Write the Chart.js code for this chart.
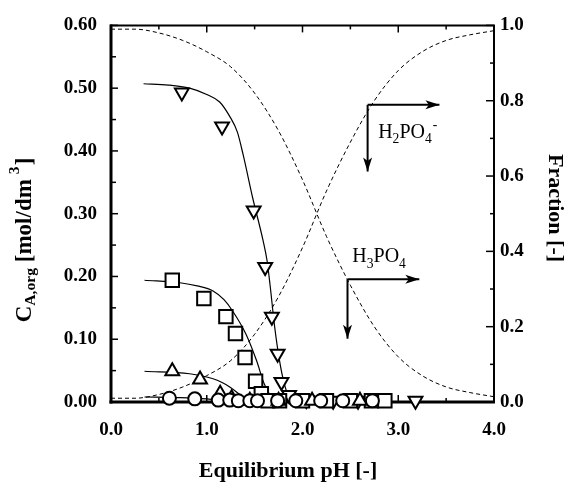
<!DOCTYPE html>
<html><head><meta charset="utf-8">
<script src="https://cdn.jsdelivr.net/npm/chart.js@4.4.1/dist/chart.umd.min.js"></script>
<style>html,body{margin:0;padding:0;background:#fff;}canvas{display:block;}</style>
</head><body>
<canvas id="c" width="568" height="485" style="width:568px;height:485px"></canvas>
<script>
const SERIF = '"Liberation Serif", "Times New Roman", serif';

// ---- tick labels ----
const xTicks = [0, 1, 2, 3, 4];
const xMinor = [0.5, 1.5, 2.5, 3.5];
const yTicks = [0, 0.1, 0.2, 0.3, 0.4, 0.5, 0.6];
const yMinor = [0.05, 0.15, 0.25, 0.35, 0.45, 0.55];
const y2Ticks = [0, 0.2, 0.4, 0.6, 0.8, 1.0];
const y2Minor = [0.1, 0.3, 0.5, 0.7, 0.9];

// ---- measured points: C_A,org vs equilibrium pH ----
const triDownPH = [0.74, 1.16, 1.49, 1.61, 1.68, 1.74, 1.78, 1.86, 2.04, 2.32, 2.58, 3.18];
const triDownC  = [0.493, 0.439, 0.305, 0.215, 0.136, 0.077, 0.032, 0.011, 0.003, 0.002, 0.002, 0.002];
const squarePH  = [0.64, 0.97, 1.20, 1.30, 1.40, 1.51, 1.57, 1.64, 1.76, 2.00, 2.25, 2.50, 2.72, 2.86];
const squareC   = [0.194, 0.165, 0.136, 0.109, 0.071, 0.033, 0.013, 0.002, 0.002, 0.002, 0.002, 0.002, 0.002, 0.002];
const triUpPH   = [0.64, 0.93, 1.14, 1.26, 1.45, 1.75, 2.10, 2.60];
const triUpC    = [0.049, 0.036, 0.013, 0.006, 0.002, 0.002, 0.002, 0.002];
const circlePH  = [0.61, 0.875, 1.12, 1.24, 1.33, 1.45, 1.53, 1.74, 1.93, 2.19, 2.42, 2.73];
const circleC   = [0.006, 0.005, 0.003, 0.003, 0.002, 0.002, 0.002, 0.002, 0.002, 0.002, 0.002, 0.002];

// ---- fitted curves (solid) ----
const fitDownPH = [0.34, 0.60, 0.82, 1.00, 1.135, 1.24, 1.32, 1.38, 1.48, 1.59, 1.63, 1.66, 1.71, 1.76, 1.81, 1.86, 1.92];
const fitDownC  = [0.507, 0.505, 0.500, 0.490, 0.478, 0.455, 0.430, 0.394, 0.325, 0.256, 0.225, 0.188, 0.119, 0.066, 0.029, 0.008, 0.000];
const fitSqPH   = [0.35, 0.72, 0.90, 1.066, 1.18, 1.27, 1.41, 1.52, 1.60, 1.69, 1.74];
const fitSqC    = [0.194, 0.190, 0.185, 0.177, 0.163, 0.145, 0.108, 0.066, 0.029, 0.005, 0.000];
const fitUpPH   = [0.35, 0.82, 1.066, 1.16, 1.24, 1.38, 1.45];
const fitUpC    = [0.049, 0.045, 0.037, 0.031, 0.024, 0.008, 0.001];
const fitCirPH  = [0.35, 0.70, 1.00, 1.20, 1.35];
const fitCirC   = [0.008, 0.007, 0.005, 0.002, 0.000];

// ---- species fractions (dashed, right axis) ----
const fracPH    = [0, 0.25, 0.5, 0.75, 1.0, 1.25, 1.5, 1.75, 2.0, 2.25, 2.5, 2.75, 3.0, 3.25, 3.5, 3.75, 4.0];
const fracH3PO4 = [0.99, 0.99, 0.98, 0.96, 0.93, 0.89, 0.82, 0.72, 0.59, 0.44, 0.31, 0.20, 0.12, 0.07, 0.04, 0.025, 0.014];
const fracH2PO4 = [0.01, 0.01, 0.02, 0.04, 0.07, 0.11, 0.18, 0.28, 0.41, 0.56, 0.69, 0.80, 0.88, 0.93, 0.96, 0.975, 0.986];

// ---- annotation arrows [cornerPH, cornerFrac, endPH, endFrac] ----
const arrowH2PO4 = [2.68, 0.789, 3.43, 0.612];
const arrowH3PO4 = [2.47, 0.326, 3.22, 0.168];
const labelH2PO4 = [2.79, 0.702];
const labelH3PO4 = [2.52, 0.372];

const zip = (xs, ys) => xs.map((x, i) => ({x, y: ys[i]}));

function markerSet(label, xs, ys, style, radius, rotation) {
  return {label, data: zip(xs, ys), showLine: false, yAxisID: 'y', clip: false,
    pointStyle: style, pointRotation: rotation || 0, pointRadius: radius,
    pointBorderWidth: 2, pointBorderColor: '#000', pointBackgroundColor: '#fff',
    borderColor: '#000', backgroundColor: '#fff'};
}
function curveSet(label, xs, ys, axis, dashed) {
  return {label, data: zip(xs, ys), showLine: true, yAxisID: axis, pointRadius: 0,
    borderColor: '#000', borderWidth: dashed ? 1 : 1.2, borderDash: dashed ? [4, 3] : [],
    cubicInterpolationMode: 'monotone', fill: false};
}

const datasets = [
  markerSet('circles', circlePH, circleC, 'circle', 6.5),
  markerSet('triangles up', triUpPH, triUpC, 'triangle', 8, 0),
  markerSet('squares', squarePH, squareC, 'rect', 9.5),
  markerSet('triangles down', triDownPH, triDownC, 'triangle', 8, 180),
  curveSet('fit down', fitDownPH, fitDownC, 'y', false),
  curveSet('fit squares', fitSqPH, fitSqC, 'y', false),
  curveSet('fit up', fitUpPH, fitUpC, 'y', false),
  curveSet('fit circles', fitCirPH, fitCirC, 'y', false),
  curveSet('H3PO4', fracPH, fracH3PO4, 'y2', true),
  curveSet('H2PO4-', fracPH, fracH2PO4, 'y2', true)
];

function richText(ctx, x, y, parts, size, weight, align) {
  const measure = p => {
    ctx.font = `${weight} ${p.s ? size * 0.68 : size}px ${SERIF}`;
    return ctx.measureText(p.t).width;
  };
  const total = parts.reduce((a, p) => a + measure(p) + (p.gap || 0), 0);
  let cx = align === 'center' ? x - total / 2 : x;
  parts.forEach(p => {
    ctx.font = `${weight} ${p.s ? size * 0.68 : size}px ${SERIF}`;
    cx += (p.gap || 0);
    const dy = p.s === 'sub' ? size * 0.28 : p.s === 'sup' ? -size * 0.42 : 0;
    ctx.fillText(p.t, cx, y + dy);
    cx += ctx.measureText(p.t).width;
  });
}

function arrow(ctx, x1, y1, x2, y2) {
  ctx.beginPath(); ctx.moveTo(x1, y1); ctx.lineTo(x2, y2); ctx.stroke();
  const a = Math.atan2(y2 - y1, x2 - x1), L = 14, W = 4.5;
  ctx.beginPath();
  ctx.moveTo(x2, y2);
  ctx.lineTo(x2 - L * Math.cos(a) + W * Math.sin(a), y2 - L * Math.sin(a) - W * Math.cos(a));
  ctx.lineTo(x2 - L * 0.75 * Math.cos(a), y2 - L * 0.75 * Math.sin(a));
  ctx.lineTo(x2 - L * Math.cos(a) - W * Math.sin(a), y2 - L * Math.sin(a) + W * Math.cos(a));
  ctx.closePath(); ctx.fill();
}

const framePlugin = {
  id: 'frame',
  beforeDatasetsDraw(chart) {
    const {ctx, chartArea: a, scales: {x, y, y2}} = chart;
    ctx.save();
    ctx.strokeStyle = '#000'; ctx.lineCap = 'butt';
    ctx.lineWidth = 1.5;
    const tick = (x1, y1, x2, y2_) => { ctx.beginPath(); ctx.moveTo(x1, y1); ctx.lineTo(x2, y2_); ctx.stroke(); };
    xTicks.forEach(v => { const p = x.getPixelForValue(v); tick(p, a.bottom, p, a.bottom - 7); tick(p, a.top, p, a.top + 7); });
    xMinor.forEach(v => { const p = x.getPixelForValue(v); tick(p, a.bottom, p, a.bottom - 4); tick(p, a.top, p, a.top + 4); });
    yTicks.forEach(v => { const p = y.getPixelForValue(v); tick(a.left, p, a.left + 7, p); });
    yMinor.forEach(v => { const p = y.getPixelForValue(v); tick(a.left, p, a.left + 5, p); });
    y2Ticks.forEach(v => { const p = y2.getPixelForValue(v); tick(a.right, p, a.right - 8, p); });
    y2Minor.forEach(v => { const p = y2.getPixelForValue(v); tick(a.right, p, a.right - 4, p); });
    ctx.lineWidth = 2; tick(a.left - 1, a.top, a.right + 1, a.top); tick(a.right, a.top, a.right, a.bottom);
    ctx.lineWidth = 3; tick(a.left, a.top - 1, a.left, a.bottom + 1.5); tick(a.left - 1.5, a.bottom, a.right + 1, a.bottom);
    ctx.restore();
  },
  afterDraw(chart) {
    const {ctx, chartArea: a, scales: {x, y2}} = chart;
    ctx.save();
    ctx.fillStyle = '#000'; ctx.strokeStyle = '#000'; ctx.lineWidth = 2;
    [arrowH2PO4, arrowH3PO4].forEach(ar => {
      const cx = x.getPixelForValue(ar[0]), cy = y2.getPixelForValue(ar[1]);
      arrow(ctx, cx, cy, x.getPixelForValue(ar[2]), cy);
      arrow(ctx, cx, cy, cx, y2.getPixelForValue(ar[3]));
    });
    ctx.textBaseline = 'alphabetic'; ctx.textAlign = 'left';
    richText(ctx, x.getPixelForValue(labelH2PO4[0]), y2.getPixelForValue(labelH2PO4[1]),
      [{t: 'H'}, {t: '2', s: 'sub'}, {t: 'PO'}, {t: '4', s: 'sub'}, {t: '-', s: 'sup', gap: 1}], 20, 'normal', 'left');
    richText(ctx, x.getPixelForValue(labelH3PO4[0]), y2.getPixelForValue(labelH3PO4[1]),
      [{t: 'H'}, {t: '3', s: 'sub'}, {t: 'PO'}, {t: '4', s: 'sub'}], 20, 'normal', 'left');
    // axis titles
    ctx.textBaseline = 'middle';
    ctx.font = `bold 22px ${SERIF}`;
    ctx.textAlign = 'center';
    ctx.fillText('Equilibrium pH [-]', 288, 471);
    ctx.save();
    ctx.translate(555, 208); ctx.rotate(Math.PI / 2);
    ctx.fillText('Fraction [-]', 0, 0);
    ctx.restore();
    ctx.save();
    ctx.translate(25, 240); ctx.rotate(-Math.PI / 2);
    ctx.textAlign = 'left';
    richText(ctx, 0, 0, [{t: 'C'}, {t: 'A,org', s: 'sub'}, {t: ' [mol/dm'}, {t: '3', s: 'sup', gap: 5}, {t: ']', gap: 1}], 23, 'bold', 'center');
    ctx.restore();
    ctx.restore();
  }
};

const tickFont = {family: SERIF, size: 19, weight: 'bold'};
new Chart(document.getElementById('c'), {
  type: 'scatter',
  data: {datasets},
  options: {
    responsive: false, animation: false, devicePixelRatio: 1,
    layout: {padding: {top: 23, left: 0, right: 0, bottom: 0}},
    plugins: {legend: {display: false}, tooltip: {enabled: false}},
    scales: {
      x: {type: 'linear', position: 'bottom', min: 0, max: 4,
        afterFit: s => { s.height = 83; },
        afterBuildTicks: s => { s.ticks = xTicks.map(v => ({value: v})); },
        ticks: {callback: v => v.toFixed(1), font: tickFont, color: '#000', padding: 17, maxRotation: 0},
        grid: {display: false, drawTicks: false}, border: {display: false}},
      y: {type: 'linear', position: 'left', min: 0, max: 0.6,
        afterFit: s => { s.width = 111; },
        afterBuildTicks: s => { s.ticks = yTicks.map(v => ({value: v})); },
        ticks: {callback: v => v.toFixed(2), font: tickFont, color: '#000', padding: 14},
        grid: {display: false, drawTicks: false}, border: {display: false}},
      y2: {type: 'linear', position: 'right', min: 0, max: 1,
        afterFit: s => { s.width = 74; },
        afterBuildTicks: s => { s.ticks = y2Ticks.map(v => ({value: v})); },
        ticks: {callback: v => v.toFixed(1), font: tickFont, color: '#000', padding: 6},
        grid: {display: false, drawTicks: false}, border: {display: false}}
    }
  },
  plugins: [framePlugin]
});
</script>
</body></html>
